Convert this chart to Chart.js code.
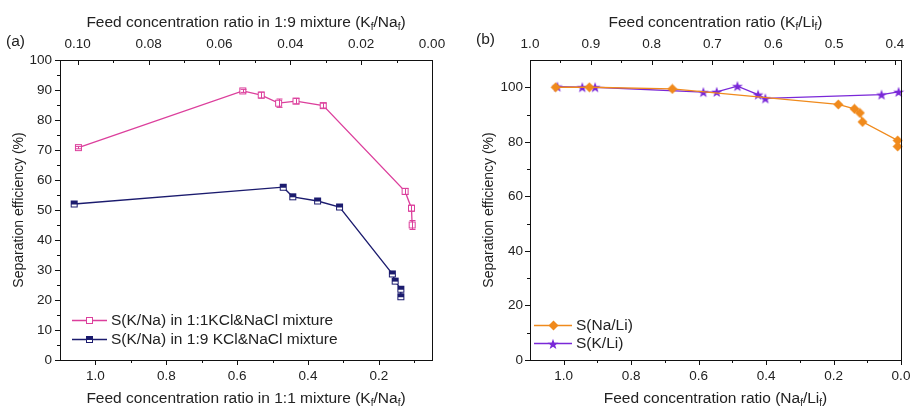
<!DOCTYPE html>
<html>
<head>
<meta charset="utf-8">
<script src="https://cdn.jsdelivr.net/npm/chart.js@4.4.1/dist/chart.umd.min.js"></script>
<style>
  body { margin: 0; background: #fff; font-family: "Liberation Sans", Arial, sans-serif; color: #222; }
  #page { position: relative; width: 911px; height: 408px; overflow: hidden; }
  .panel { position: absolute; top: 0; height: 408px; }
  .txt { position: absolute; font-size: 15.5px; line-height: 18px; white-space: nowrap; text-align: center; }
  .txt sub { font-size: 10px; vertical-align: -3px; line-height: 0; }
</style>
</head>
<body>
<div id="page">
  <div class="panel" style="left:0;width:460px"><canvas id="chartA"></canvas></div>
  <div class="panel" style="left:460px;width:451px"><canvas id="chartB"></canvas></div>
  <div class="txt" style="left:60px;width:372px;top:13px">Feed concentration ratio in 1:9 mixture (K<sub>f</sub>/Na<sub>f</sub>)</div>
  <div class="txt" style="left:60px;width:372px;top:389px">Feed concentration ratio in 1:1 mixture (K<sub>f</sub>/Na<sub>f</sub>)</div>
  <div class="txt" style="left:530px;width:371px;top:13px">Feed concentration ratio (K<sub>f</sub>/Li<sub>f</sub>)</div>
  <div class="txt" style="left:530px;width:371px;top:389px">Feed concentration ratio (Na<sub>f</sub>/Li<sub>f</sub>)</div>
  <div class="txt" style="left:6px;top:32px">(a)</div>
  <div class="txt" style="left:476px;top:30px">(b)</div>
</div>
<script>
// (a) K/Na separation in the 1:1 and 1:9 KCl/NaCl feeds
const ratio11 = [1.048, 0.584, 0.532, 0.483, 0.434, 0.357, 0.126, 0.108, 0.106];
const sep11 = [70.8, 89.7, 88.3, 85.6, 86.3, 84.8, 56.2, 50.6, 45.0];
const err11 = [0.4, 0.5, 1.0, 1.4, 0.9, 0.8, 1.0, 1.0, 1.5];
const ratio19 = [0.101, 0.042, 0.0393, 0.0323, 0.0261, 0.0112, 0.0104, 0.0088, 0.0088];
const sep19 = [52.0, 57.6, 54.4, 53.0, 51.0, 28.7, 26.3, 23.6, 21.1];

// (b) Na/Li and K/Li separation
const ratioNaLi = [1.024, 0.924, 0.678, 0.186, 0.138, 0.122, 0.114, 0.01, 0.01];
const sepNaLi = [100.0, 100.0, 99.4, 93.7, 92.1, 90.6, 87.3, 80.5, 78.3];
const ratioKLi = [0.955, 0.914, 0.893, 0.715, 0.693, 0.659, 0.625, 0.613, 0.422, 0.394];
const sepKLi = [100.2, 100.0, 100.0, 98.2, 98.3, 100.4, 97.3, 95.9, 97.3, 98.3];

// tick values (major ones get labels)
const ticksAx = [1.0, 0.8, 0.6, 0.4, 0.2];
const minorAx = [0.9, 0.7, 0.5, 0.3, 0.1];
const ticksAx2 = [0.10, 0.08, 0.06, 0.04, 0.02, 0.00];
const minorAx2 = [0.09, 0.07, 0.05, 0.03, 0.01];
const ticksAy = [0, 10, 20, 30, 40, 50, 60, 70, 80, 90, 100];
const minorAy = [5, 15, 25, 35, 45, 55, 65, 75, 85, 95];
const ticksBx = [1.0, 0.8, 0.6, 0.4, 0.2, 0.0];
const minorBx = [0.9, 0.7, 0.5, 0.3, 0.1];
const ticksBx2 = [1.0, 0.9, 0.8, 0.7, 0.6, 0.5, 0.4];
const minorBx2 = [0.95, 0.85, 0.75, 0.65, 0.55, 0.45];
const ticksBy = [0, 20, 40, 60, 80, 100];
const minorBy = [10, 30, 50, 70, 90];

const FONT = '"Liberation Sans", Arial, sans-serif';
const INK = '#222';
Chart.defaults.font.family = FONT;
Chart.defaults.color = INK;

const PINK = '#dc3f9c', NAVY = '#1b1b6e', ORANGE = '#f08a1c', PURPLE = '#7a28d8';

function marker(kind, color) {
  const n = kind === 'star' ? 12 : kind === 'diamond' ? 11 : 9;
  const c = document.createElement('canvas');
  c.width = c.height = n;
  const g = c.getContext('2d');
  const m = n / 2;
  g.strokeStyle = color;
  g.lineWidth = 1;
  if (kind === 'open' || kind === 'half') {
    g.fillStyle = '#fff';
    g.fillRect(1, 1, 7, 7);
    if (kind === 'half') {
      g.fillStyle = color;
      g.fillRect(1, 1, 7, 4);
    }
    g.strokeRect(1.5, 1.5, 6, 6);
  } else if (kind === 'diamond') {
    g.fillStyle = color;
    g.beginPath();
    g.moveTo(m, 0.5); g.lineTo(n - 0.5, m); g.lineTo(m, n - 0.5); g.lineTo(0.5, m);
    g.closePath();
    g.fill();
  } else {
    g.fillStyle = color;
    g.beginPath();
    for (let i = 0; i < 10; i++) {
      const r = i % 2 ? 2.3 : m - 0.3;
      const a = -Math.PI / 2 + i * Math.PI / 5;
      g.lineTo(m + r * Math.cos(a), m + 0.5 + r * Math.sin(a));
    }
    g.closePath();
    g.fill();
  }
  return c;
}

const mkOpen = marker('open', PINK), mkHalf = marker('half', NAVY);
const mkDiamond = marker('diamond', ORANGE), mkStar = marker('star', PURPLE);

function series(label, xs, ys, color, pt, xAxisID) {
  return {
    label, xAxisID, yAxisID: 'y',
    data: xs.map((x, i) => ({ x, y: ys[i] })),
    showLine: true, borderColor: color, borderWidth: 1.3, tension: 0,
    pointStyle: pt, pointRadius: 5, pointHoverRadius: 5, clip: false
  };
}

function axis(position, min, max, major, minor, digits, size, pad, extra) {
  const horiz = position === 'top' || position === 'bottom';
  return Object.assign({
    type: 'linear', position, min, max, reverse: horiz,
    grid: { display: false, drawTicks: false },
    border: { display: false },
    afterBuildTicks: s => {
      s.ticks = major.concat(minor).sort((a, b) => a - b).map(v => ({ value: v }));
    },
    ticks: {
      autoSkip: false, maxRotation: 0, padding: pad, color: INK,
      font: { size: 13.5 },
      callback: v => major.some(m => Math.abs(m - v) < 1e-9) ? v.toFixed(digits) : ''
    },
    afterFit: s => { if (horiz) s.height = size; else s.width = size; }
  }, extra || {});
}

// frame, tick marks, error bars and the in-plot legend
function frame(marks, legend, errs) {
  return {
    id: 'frame',
    afterDatasetsDraw(chart) {
      const { ctx, chartArea: a } = chart;
      ctx.save();
      if (errs) {
        const xs = chart.scales[errs.x], ys = chart.scales.y;
        ctx.strokeStyle = errs.color;
        ctx.lineWidth = 1;
        errs.xs.forEach((x, i) => {
          const px = Math.round(xs.getPixelForValue(x)) + 0.5;
          const y1 = ys.getPixelForValue(errs.ys[i] + errs.e[i]);
          const y2 = ys.getPixelForValue(errs.ys[i] - errs.e[i]);
          ctx.beginPath();
          ctx.moveTo(px, y1); ctx.lineTo(px, y2);
          ctx.moveTo(px - 3, y1); ctx.lineTo(px + 3, y1);
          ctx.moveTo(px - 3, y2); ctx.lineTo(px + 3, y2);
          ctx.stroke();
        });
      }
      ctx.strokeStyle = '#111';
      ctx.lineWidth = 1;
      ctx.strokeRect(Math.round(a.left) + 0.5, Math.round(a.top) + 0.5,
        Math.round(a.right - a.left), Math.round(a.bottom - a.top));
      ctx.beginPath();
      Object.keys(marks).forEach(id => {
        const s = chart.scales[id], m = marks[id];
        const sign = m.dir === 'in' ? -1 : 1;
        const all = m.major.map(v => [v, 5]).concat(m.minor.map(v => [v, 3]));
        all.forEach(([v, len]) => {
          const p = Math.round(s.getPixelForValue(v)) + 0.5;
          if (s.position === 'bottom') {
            ctx.moveTo(p, a.bottom); ctx.lineTo(p, a.bottom + sign * len);
          } else if (s.position === 'top') {
            ctx.moveTo(p, a.top); ctx.lineTo(p, a.top - sign * len);
          } else {
            ctx.moveTo(a.left, p); ctx.lineTo(a.left - sign * len, p);
          }
        });
      });
      ctx.stroke();
      ctx.font = '15.5px ' + FONT;
      ctx.textBaseline = 'middle';
      ctx.fillStyle = INK;
      legend.items.forEach((it, i) => {
        const y = Math.round(a.bottom + legend.dy + i * legend.gap) + 0.5;
        const x0 = a.left + legend.dx;
        ctx.strokeStyle = it.color;
        ctx.lineWidth = 1.3;
        ctx.beginPath();
        ctx.moveTo(x0, y); ctx.lineTo(x0 + legend.len, y);
        ctx.stroke();
        const mk = it.mark;
        ctx.drawImage(mk, Math.round(x0 + legend.len / 2 - mk.width / 2), Math.round(y - mk.height / 2));
        ctx.fillText(it.label, x0 + legend.len + 4, y + 0.5);
      });
      ctx.restore();
    }
  };
}

const common = {
  responsive: true, maintainAspectRatio: false, animation: false, events: [],
  plugins: { legend: { display: false }, tooltip: { enabled: false } }
};

const yTitle = pad => ({ display: true, text: 'Separation efficiency (%)', color: INK,
  font: { size: 14 }, padding: { top: pad, bottom: 0 } });

new Chart(document.getElementById('chartA'), {
  type: 'scatter',
  data: {
    datasets: [
      series('S(K/Na) in 1:1KCl&NaCl mixture', ratio11, sep11, PINK, mkOpen, 'x'),
      series('S(K/Na) in 1:9 KCl&NaCl mixture', ratio19, sep19, NAVY, mkHalf, 'x2')
    ]
  },
  options: Object.assign({}, common, {
    layout: { padding: { left: 0, right: 28, top: 0, bottom: 0 } },
    scales: {
      x: axis('bottom', 0.05, 1.1, ticksAx, minorAx, 1, 48, 8),
      x2: axis('top', 0, 0.105, ticksAx2, minorAx2, 2, 60, 8),
      y: axis('left', 0, 100, ticksAy, minorAy, 0, 60, 8, { title: yTitle(11) })
    }
  }),
  plugins: [frame(
    { x: { major: ticksAx, minor: minorAx, dir: 'out' },
      x2: { major: ticksAx2, minor: minorAx2, dir: 'in' },
      y: { major: ticksAy, minor: minorAy, dir: 'out' } },
    { dx: 12, dy: -40, gap: 18.5, len: 35, items: [
      { label: 'S(K/Na) in 1:1KCl&NaCl mixture', color: PINK, mark: mkOpen },
      { label: 'S(K/Na) in 1:9 KCl&NaCl mixture', color: NAVY, mark: mkHalf } ] },
    { x: 'x', xs: ratio11, ys: sep11, e: err11, color: PINK }
  )]
});

new Chart(document.getElementById('chartB'), {
  type: 'scatter',
  data: {
    datasets: [
      series('S(Na/Li)', ratioNaLi, sepNaLi, ORANGE, mkDiamond, 'x'),
      series('S(K/Li)', ratioKLi, sepKLi, PURPLE, mkStar, 'x2')
    ]
  },
  options: Object.assign({}, common, {
    layout: { padding: { left: 0, right: 10, top: 0, bottom: 0 } },
    scales: {
      x: axis('bottom', 0, 1.1, ticksBx, minorBx, 1, 48, 8),
      x2: axis('top', 0.39, 1.0, ticksBx2, minorBx2, 1, 60, 8),
      y: axis('left', 0, 110, ticksBy, minorBy, 0, 70, 7, { title: yTitle(21) })
    }
  }),
  plugins: [frame(
    { x: { major: ticksBx, minor: minorBx, dir: 'out' },
      x2: { major: ticksBx2, minor: minorBx2, dir: 'in' },
      y: { major: ticksBy, minor: minorBy, dir: 'out' } },
    { dx: 4, dy: -35, gap: 17.5, len: 38, items: [
      { label: 'S(Na/Li)', color: ORANGE, mark: mkDiamond },
      { label: 'S(K/Li)', color: PURPLE, mark: mkStar } ] },
    null
  )]
});
</script>
</body>
</html>
